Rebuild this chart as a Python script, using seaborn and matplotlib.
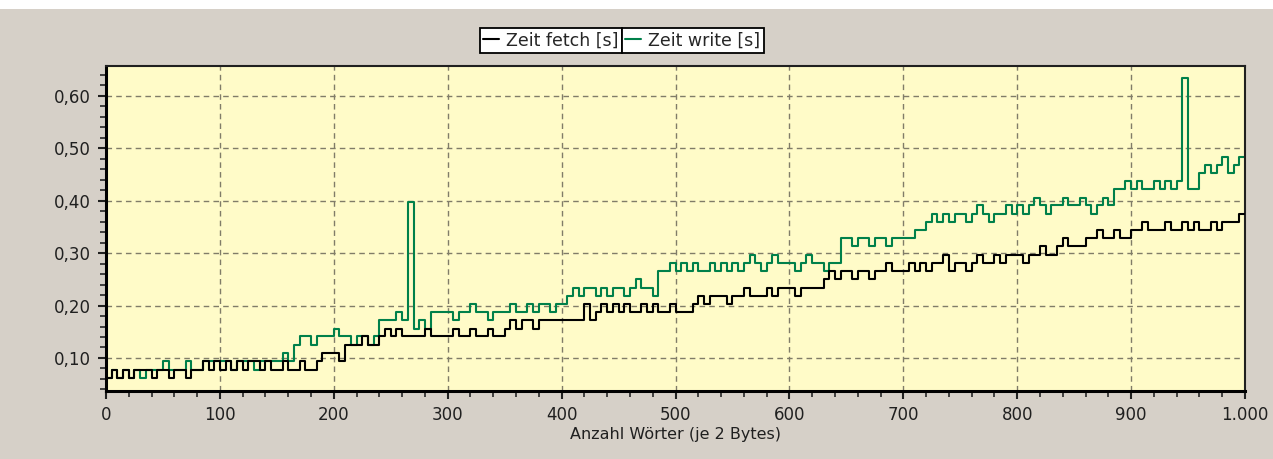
import numpy as np
import pandas as pd
import seaborn as sns
import matplotlib
matplotlib.use("Agg")
import matplotlib.pyplot as plt
from matplotlib.ticker import MultipleLocator, FuncFormatter
from matplotlib.patches import Rectangle

# Anzahl Wörter, alle 5 Wörter ein Messpunkt
woerter = list(range(0, 1000, 5))

# Zeit fetch [ms] (Zeile = 50 Wörter)
zeit_fetch_ms = [
    62, 78, 62, 78, 62, 78, 78, 78, 62, 78,
    78, 62, 78, 78, 62, 78, 78, 94, 78, 94,
    78, 94, 78, 94, 78, 94, 94, 78, 94, 78,
    78, 94, 78, 78, 94, 78, 78, 94, 109, 109,
    109, 94, 125, 125, 125, 141, 125, 125, 141, 156,
    141, 156, 141, 141, 141, 141, 156, 141, 141, 141,
    141, 156, 141, 141, 156, 141, 141, 156, 141, 141,
    156, 172, 156, 172, 172, 156, 172, 172, 172, 172,
    172, 172, 172, 172, 203, 172, 188, 203, 188, 203,
    188, 203, 188, 188, 203, 188, 203, 188, 188, 203,
    188, 188, 188, 203, 219, 203, 219, 219, 219, 203,
    219, 219, 234, 219, 219, 219, 234, 219, 234, 234,
    234, 219, 234, 234, 234, 234, 250, 266, 250, 266,
    266, 250, 266, 266, 250, 266, 266, 281, 266, 266,
    266, 281, 266, 281, 266, 281, 281, 297, 266, 281,
    281, 266, 281, 297, 281, 281, 297, 281, 297, 297,
    297, 281, 297, 297, 313, 297, 297, 313, 328, 313,
    313, 313, 328, 328, 344, 328, 328, 344, 328, 328,
    344, 344, 359, 344, 344, 344, 359, 344, 344, 359,
    344, 359, 344, 344, 359, 344, 359, 359, 359, 375,
]

# Zeit write [ms]
zeit_write_ms = [
    62, 78, 62, 78, 62, 78, 62, 78, 78, 78,
    94, 78, 78, 78, 94, 78, 78, 94, 94, 94,
    94, 94, 78, 94, 94, 94, 78, 94, 94, 94,
    94, 109, 94, 125, 141, 141, 125, 141, 141, 141,
    156, 141, 141, 125, 141, 141, 125, 141, 172, 172,
    172, 188, 172, 397, 156, 172, 156, 188, 188, 188,
    188, 172, 188, 188, 203, 188, 188, 172, 188, 188,
    188, 203, 188, 188, 203, 188, 203, 203, 188, 203,
    203, 219, 234, 219, 234, 234, 219, 234, 219, 234,
    234, 219, 234, 250, 234, 234, 219, 266, 266, 281,
    266, 281, 266, 281, 266, 266, 281, 266, 281, 266,
    281, 266, 281, 297, 281, 266, 281, 297, 281, 281,
    281, 266, 281, 297, 281, 281, 266, 281, 281, 328,
    328, 313, 328, 328, 313, 328, 328, 313, 328, 328,
    328, 328, 344, 344, 359, 375, 359, 375, 359, 375,
    375, 359, 375, 391, 375, 359, 375, 375, 391, 375,
    391, 375, 391, 406, 391, 375, 391, 391, 406, 391,
    391, 406, 391, 375, 391, 406, 391, 422, 422, 438,
    422, 438, 422, 422, 438, 422, 438, 422, 438, 635,
    422, 422, 453, 469, 453, 469, 484, 453, 469, 484,
]

farbe_fetch = "#000000"
farbe_write = "#00804a"

# letzter Punkt bei 1000 damit die Stufen bis zum Rand gehen
x = woerter + [1000]
df_fetch = pd.DataFrame({"x": x, "t": np.array(zeit_fetch_ms + [zeit_fetch_ms[-1]]) / 1000})
df_write = pd.DataFrame({"x": x, "t": np.array(zeit_write_ms + [zeit_write_ms[-1]]) / 1000})

sns.set_style("white")
plt.rcParams["font.family"] = ["DejaVu Sans"]

fig = plt.figure(figsize=(12.73, 4.59), dpi=100, facecolor="#d6d0c8")
fig.add_artist(Rectangle((0, 1 - 9 / 459), 1, 9 / 459, transform=fig.transFigure,
                         facecolor="white", edgecolor="none"))
ax = fig.add_axes([106 / 1273, 68 / 459, (1245 - 106) / 1273, (391 - 66) / 459])
ax.set_facecolor("#fffbc8")

sns.lineplot(data=df_fetch, x="x", y="t", color=farbe_fetch, drawstyle="steps-post",
             linewidth=1.5, ax=ax, zorder=3)
sns.lineplot(data=df_write, x="x", y="t", color=farbe_write, drawstyle="steps-post",
             linewidth=1.5, ax=ax, zorder=2)

ax.set_xlim(0, 1000)
ax.set_ylim(0.037, 0.657)
ax.xaxis.set_major_locator(MultipleLocator(100))
ax.xaxis.set_minor_locator(MultipleLocator(20))
ax.yaxis.set_major_locator(MultipleLocator(0.1))
ax.yaxis.set_minor_locator(MultipleLocator(0.02))
ax.yaxis.set_major_formatter(FuncFormatter(lambda v, p: f"{v:.2f}".replace(".", ",")))
ax.xaxis.set_major_formatter(FuncFormatter(lambda v, p: f"{int(round(v)):,}".replace(",", ".")))
ax.tick_params(axis="both", which="major", direction="out", length=6, width=1.5,
               labelsize=12, colors="#202020", left=True, bottom=True, pad=5)
ax.tick_params(axis="both", which="minor", direction="out", length=4, width=1.2,
               left=True, bottom=True)

ax.grid(True, which="major", color="#807c68", linestyle=(0, (4, 3)), linewidth=1)
ax.set_axisbelow(True)

for s in ["left", "bottom"]:
    ax.spines[s].set_linewidth(2.2)
    ax.spines[s].set_color("black")
for s in ["top", "right"]:
    ax.spines[s].set_linewidth(1.5)
    ax.spines[s].set_color("#202020")

ax.set_xlabel("Anzahl Wörter (je 2 Bytes)", fontsize=11.5, labelpad=2, color="#202020")
ax.set_ylabel("")

# zwei Legendenkästchen direkt nebeneinander
h_fetch = ax.get_lines()[0]
h_write = ax.get_lines()[1]
leg_opts = dict(fontsize=12.5, frameon=True, fancybox=False, edgecolor="black",
                framealpha=1, handlelength=0.9, handletextpad=0.4, borderpad=0.2,
                borderaxespad=0, bbox_transform=fig.transFigure)
leg1 = fig.legend([h_fetch], ["Zeit fetch [s]"], loc="lower right",
                  bbox_to_anchor=(622 / 1273, 1 - 53 / 459), **leg_opts)
leg2 = fig.legend([h_write], ["Zeit write [s]"], loc="lower left",
                  bbox_to_anchor=(622 / 1273, 1 - 53 / 459), **leg_opts)
for leg in (leg1, leg2):
    leg.get_frame().set_linewidth(1.3)
    for line in leg.get_lines():
        line.set_linewidth(1.5)

fig.savefig("out.png", dpi=100, facecolor=fig.get_facecolor())
